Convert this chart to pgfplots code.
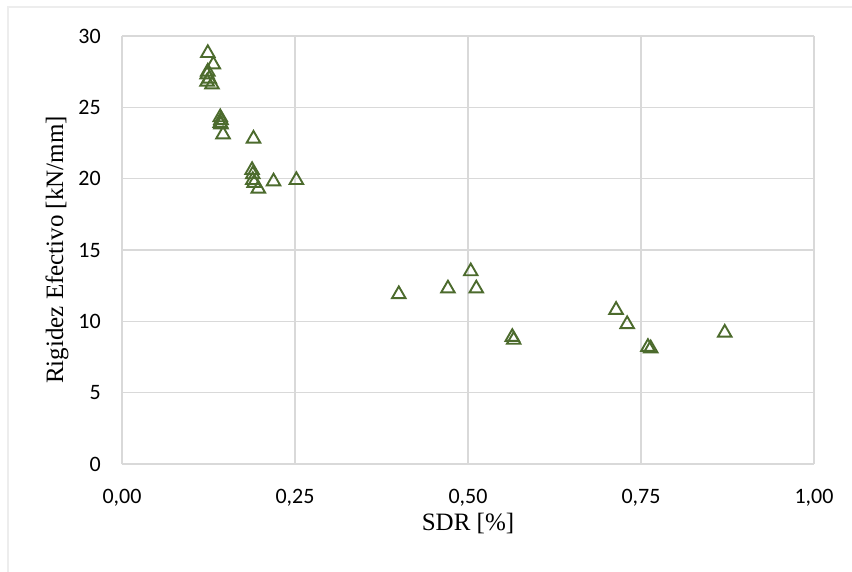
\documentclass[border=0pt]{standalone}
\usepackage{pgfplots}
\pgfplotsset{compat=1.18}
\usepackage{fontspec}
\setmainfont{Liberation Serif}
\newfontfamily\carlito{Carlito}
\definecolor{mk}{HTML}{4C6B2D}
\definecolor{gridc}{HTML}{D9D9D9}
\definecolor{framec}{HTML}{EDEDED}
\begin{document}
\begin{tikzpicture}[x=1pt,y=1pt]
\useasboundingbox (0,0) rectangle (852,571);
\fill[white] (0,0) rectangle (852,571);
\draw[framec, line width=1.2pt] (8,-20) -- (8,564) -- (900,564);
\begin{axis}[
  at={(122pt,107pt)}, anchor=south west,
  scale only axis, width=692pt, height=428pt,
  xmin=0, xmax=1, ymin=0, ymax=30,
  xtick={0,0.25,0.5,0.75,1}, ytick={0,5,10,15,20,25,30},
  grid=major,
  major grid style={gridc, line width=1.3pt},
  axis line style={draw=none},
  tick style={draw=none},
  /pgf/number format/assume math mode=true,
  xticklabel={\pgfmathprintnumber[fixed,fixed zerofill,precision=2,use comma]{\tick}},
  yticklabel={\pgfmathprintnumber[fixed,precision=0]{\tick}},
  xticklabel style={font=\carlito\fontsize{22}{26}\selectfont, anchor=center, yshift=-34pt},
  yticklabel style={font=\carlito\fontsize{22}{26}\selectfont, anchor=east, inner sep=0pt, xshift=-21pt},
  xlabel={SDR [\%]},
  ylabel={Rigidez Efectivo [kN/mm]},
  xlabel style={font=\fontsize{25}{29}\selectfont, at={(axis description cs:0.5,-0.14)}, anchor=center},
  ylabel style={font=\fontsize{25}{29}\selectfont, at={(axis description cs:-0.094,0.5)}, anchor=center},
  clip=false,
]
\addplot[only marks, mark=triangle, mark size=7.8pt, mark options={draw=mk, fill=none, line width=1.9pt}] table {
x y
0.124 28.8
0.132 28.0
0.124 27.5
0.123 27.3
0.126 27.0
0.123 26.8
0.130 26.6
0.142 24.3
0.143 24.1
0.142 23.9
0.143 23.8
0.146 23.1
0.190 22.8
0.188 20.6
0.189 20.3
0.189 19.9
0.191 19.7
0.197 19.3
0.219 19.8
0.252 19.9
0.400 11.9
0.471 12.3
0.504 13.5
0.512 12.3
0.564 8.9
0.566 8.7
0.714 10.8
0.730 9.8
0.760 8.2
0.764 8.1
0.871 9.2
};
\end{axis}
\end{tikzpicture}
\end{document}
